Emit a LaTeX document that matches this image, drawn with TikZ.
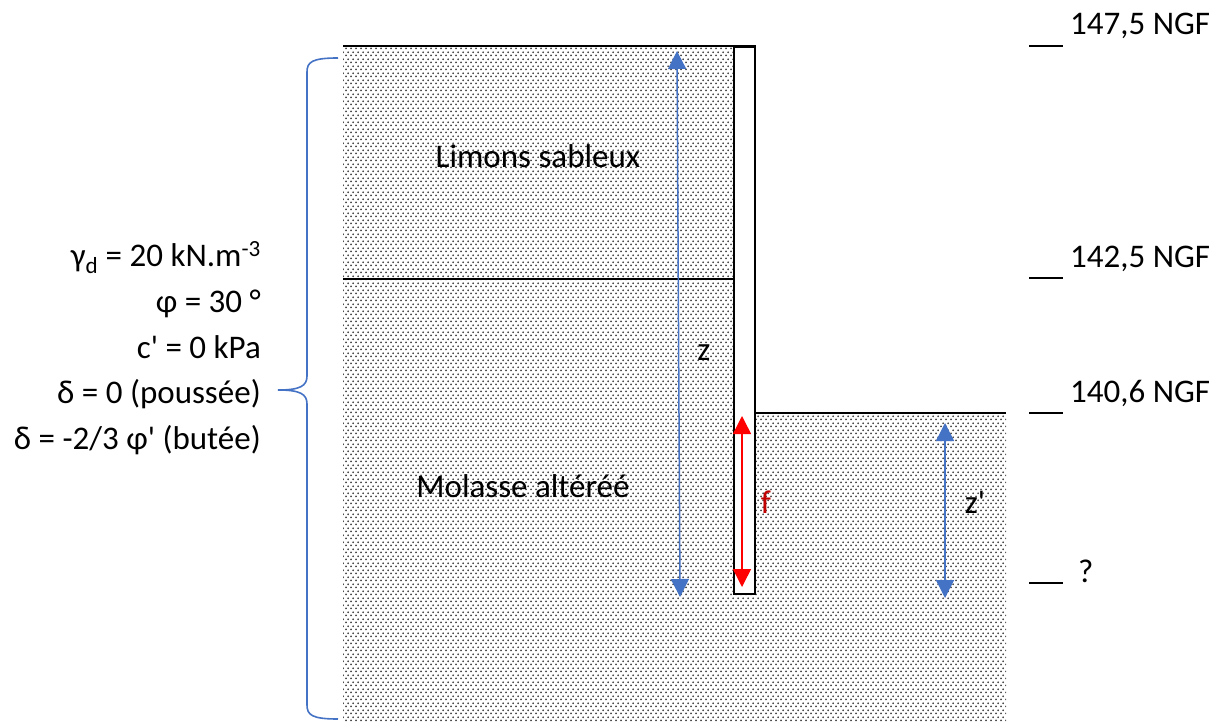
\documentclass[tikz,border=0pt]{standalone}
\usepackage{fontspec}
\setmainfont{Carlito}
\usetikzlibrary{arrows.meta,patterns.meta}
\definecolor{wblue}{HTML}{4472C4}
\definecolor{wred}{HTML}{FF0000}
\definecolor{dred}{HTML}{C00000}
\pgfdeclarepattern{name=soildots, type=uncolored,
  bottom left={\pgfpointorigin}, top right={\pgfpoint{5pt}{6.6pt}},
  tile size={\pgfpoint{5pt}{6.6pt}},
  code={\pgfpathcircle{\pgfpoint{1.25pt}{1.65pt}}{1.1pt}
        \pgfpathcircle{\pgfpoint{3.75pt}{4.95pt}}{1.1pt}
        \pgfusepath{fill}}}
\tikzset{
  lbl/.style={inner sep=0pt, font=\fontsize{33pt}{39pt}\selectfont},
  soil/.style={pattern=soildots, pattern color=black!78},
  edge/.style={draw=black, line width=2.5pt},
  bluearr/.style={draw=wblue, line width=1.5pt, {Triangle[width=18pt,length=18pt]}-{Triangle[width=18pt,length=18pt]}, wblue},
  redarr/.style={draw=wred, line width=1.5pt, {Triangle[width=18pt,length=18pt]}-{Triangle[width=18pt,length=18pt]}, wred},
  level/.style={draw=black, line width=2.5pt},
  bracestyle/.style={draw=wblue, line width=1.6pt}
}
\begin{document}
\begin{tikzpicture}[x=1pt,y=-1pt]
\useasboundingbox (0,0) rectangle (1218,722);
% soil
\fill[soil] (343,46) -- (733,46) -- (733,593) -- (754,593) -- (754,413) -- (1006,413) -- (1006,722) -- (343,722) -- cycle;
% wall
\node[draw=black, line width=2.2pt, fill=white, minimum width=21pt, minimum height=547pt, inner sep=0pt, anchor=north west] (wall) at (733,46) {};
% boundaries
\coordinate (tl) at (343,46);
\coordinate (ml) at (343,279);
\coordinate (mr) at (733,279);
\coordinate (rl) at (754,413);
\coordinate (rr) at (1006,413);
\draw[edge] (tl) -- (wall.north east);
\draw[edge] (ml) -- (mr);
\draw[edge] (rl) -- (rr);
% arrows
\coordinate (zt) at (677,51);
\coordinate (zb) at (680,597);
\draw[bluearr] (zt) -- (zb);
\coordinate (ft) at (742,416);
\coordinate (fb) at (742,587);
\draw[redarr] (ft) -- (fb);
\coordinate (zpt) at (945,423);
\coordinate (zpb) at (945,598);
\draw[bluearr] (zpt) -- (zpb);
% labels
\node[lbl, anchor=base] (limons) at (538,168) {Limons sableux};
\node[lbl, anchor=base] (molasse) at (523,497) {Molasse altéréé};
\node[lbl, anchor=base] (zl) at (704,360) {z};
\node[lbl, anchor=base, text=dred] (fl) at (766,513) {f};
\node[lbl, anchor=base] (zpl) at (975,513) {z\textquotesingle};
% levels
\coordinate (a1) at (1029,46); \coordinate (a2) at (1063,46);
\coordinate (b1) at (1029,278); \coordinate (b2) at (1063,278);
\coordinate (c1) at (1029,413); \coordinate (c2) at (1063,413);
\coordinate (d1) at (1029,583); \coordinate (d2) at (1063,583);
\draw[level] (a1) -- (a2);
\draw[level] (b1) -- (b2);
\draw[level] (c1) -- (c2);
\draw[level] (d1) -- (d2);
\node[lbl, anchor=base west] (n1) at (1070,35) {147,5 NGF};
\node[lbl, anchor=base west] (n2) at (1070,267) {142,5 NGF};
\node[lbl, anchor=base west] (n3) at (1070,402) {140,6 NGF};
\node[lbl, anchor=base west] (n4) at (1078,582) {?};
% parameters
\node[lbl, anchor=base east] (p1) at (261,266) {γ\textsubscript{d} = 20 kN.m\textsuperscript{-3}};
\node[lbl, anchor=base east] (p2) at (261,312) {φ = 30 °};
\node[lbl, anchor=base east] (p3) at (261,358) {c\textquotesingle{} = 0 kPa};
\node[lbl, anchor=base east] (p4) at (261,403) {δ = 0 (poussée)};
\node[lbl, anchor=base east] (p5) at (261,449) {δ = -2/3 φ\textquotesingle{} (butée)};
% brace
\coordinate (bt) at (338,58);
\coordinate (bm) at (278,390);
\coordinate (bb) at (338,719);
\draw[bracestyle] (bt) .. controls (312,58) and (307,62) .. (307,72) -- (307,376)
  .. controls (307,386) and (300,390) .. (bm)
  .. controls (300,390) and (307,394) .. (307,404) -- (307,705)
  .. controls (307,715) and (312,719) .. (bb);
\end{tikzpicture}
\end{document}
